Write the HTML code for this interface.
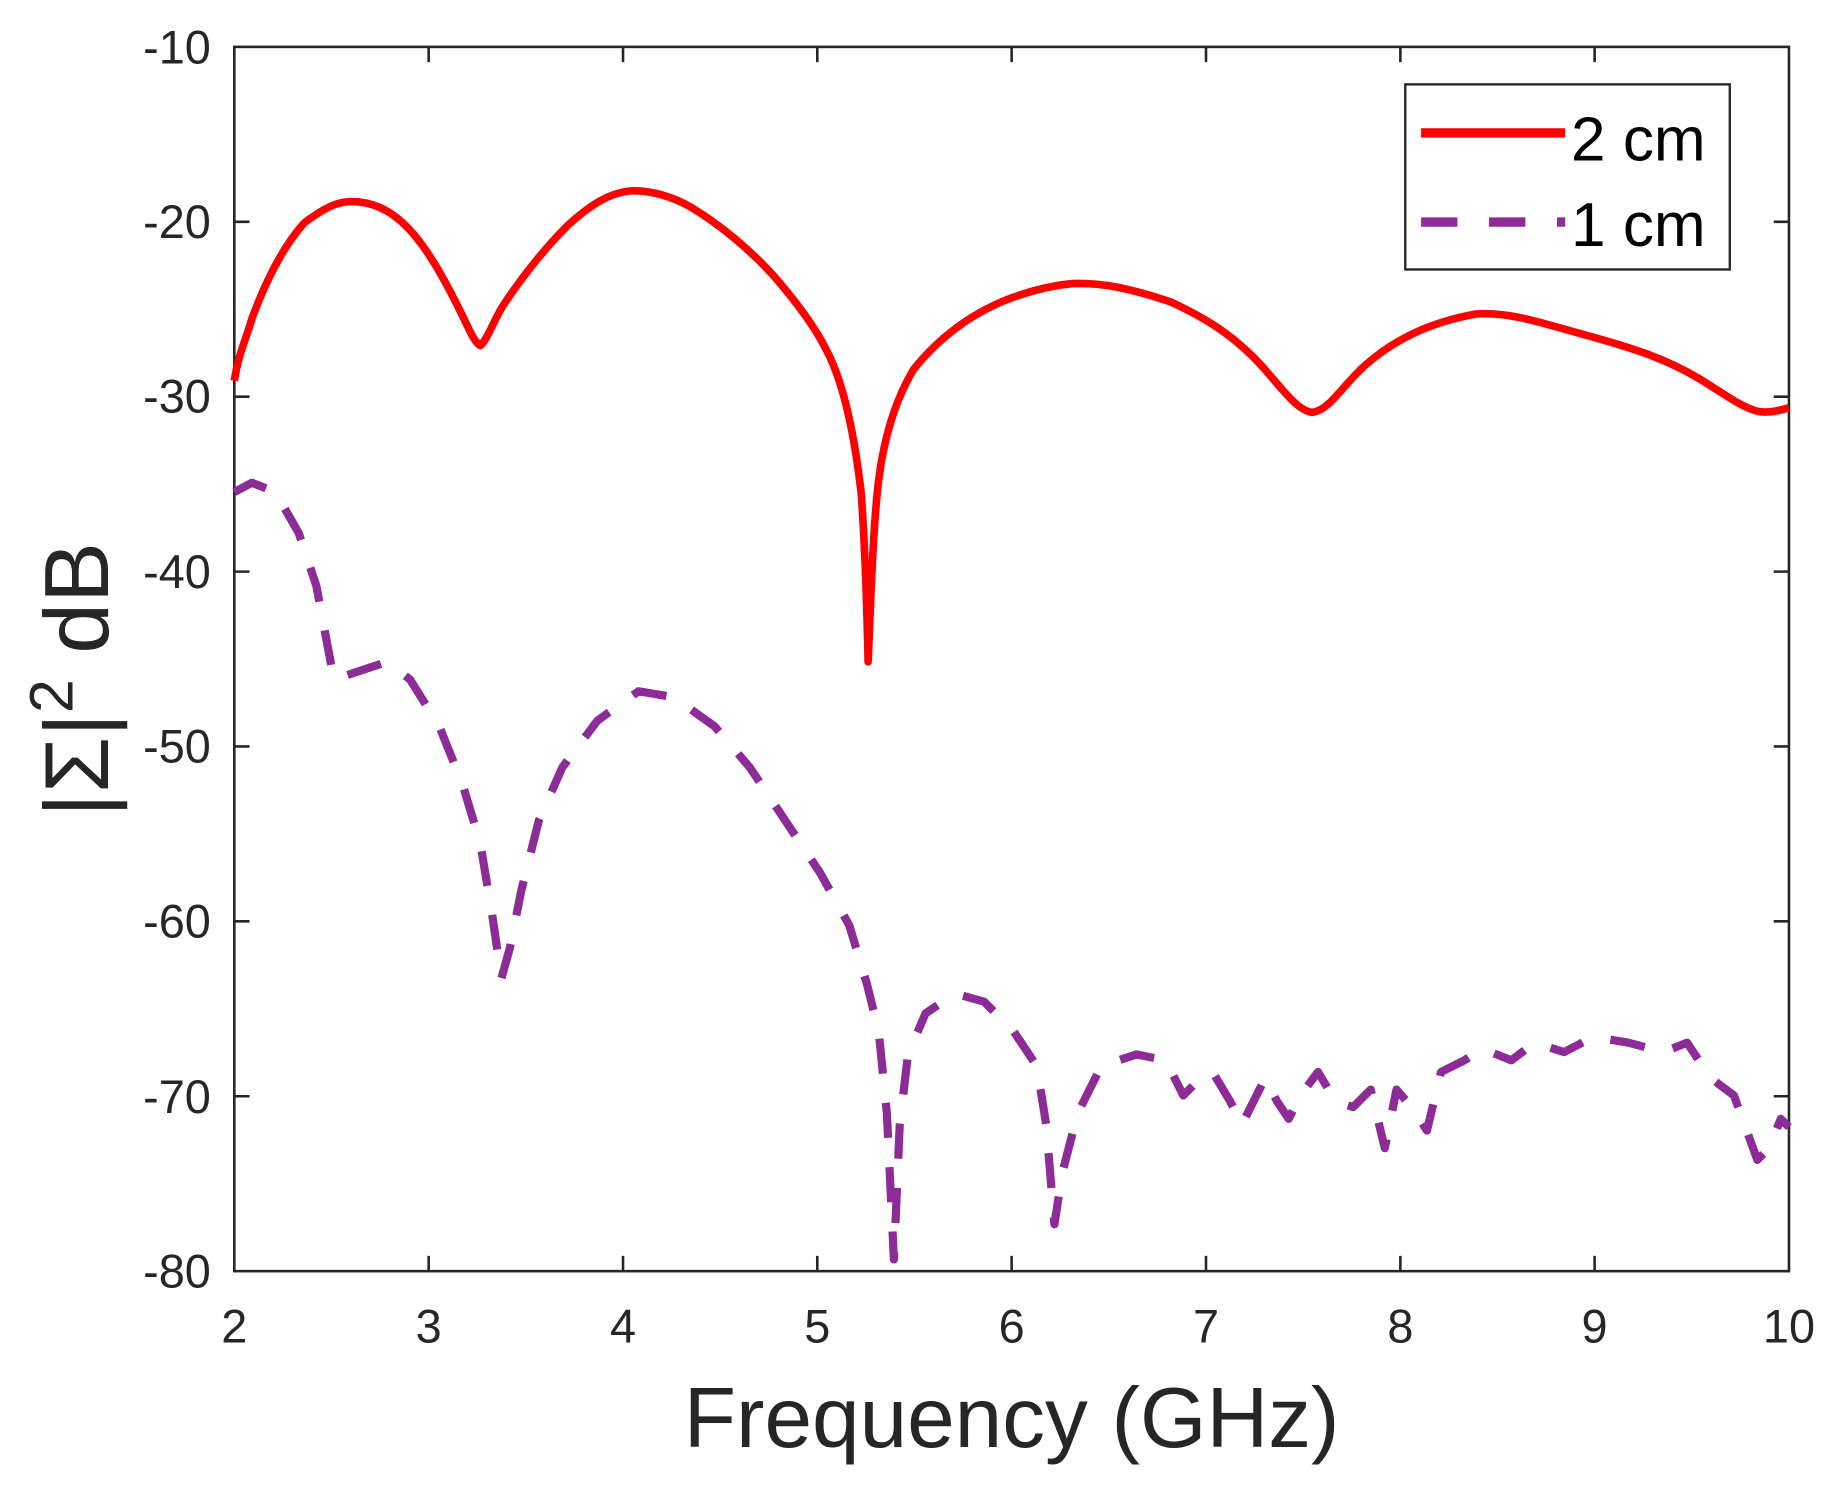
<!DOCTYPE html>
<html><head><meta charset="utf-8"><style>html,body{margin:0;padding:0;background:#fff}svg{display:block}</style></head>
<body>
<svg width="1837" height="1485" viewBox="0 0 1568 1267.5" xmlns="http://www.w3.org/2000/svg" font-family="Liberation Sans, Arial, sans-serif">
<rect width="1568" height="1267.5" fill="#fff"/>
<g stroke="#262626" stroke-width="2.2" fill="none">
<rect x="200" y="40" width="1327" height="1045"/>
<path d="M200,189.3h13M200,338.6h13M200,487.9h13M200,637.1h13M200,786.4h13M200,935.7h13M1527,189.3h-13M1527,338.6h-13M1527,487.9h-13M1527,637.1h-13M1527,786.4h-13M1527,935.7h-13"/>
<path d="M365.9,1085v-13M531.8,1085v-13M697.6,1085v-13M863.5,1085v-13M1029.4,1085v-13M1195.3,1085v-13M1361.1,1085v-13M365.9,40v13M531.8,40v13M697.6,40v13M863.5,40v13M1029.4,40v13M1195.3,40v13M1361.1,40v13"/>
</g>
<g font-size="40" fill="#262626" text-anchor="end">
<text x="180" y="54">-10</text><text x="180" y="203">-20</text><text x="180" y="352">-30</text><text x="180" y="502">-40</text><text x="180" y="651">-50</text><text x="180" y="800">-60</text><text x="180" y="950">-70</text><text x="180" y="1099">-80</text>
</g>
<g font-size="40" fill="#262626" text-anchor="middle">
<text x="200" y="1146">2</text><text x="365.9" y="1146">3</text><text x="531.8" y="1146">4</text><text x="697.6" y="1146">5</text><text x="863.5" y="1146">6</text><text x="1029.4" y="1146">7</text><text x="1195.3" y="1146">8</text><text x="1361.1" y="1146">9</text><text x="1527" y="1146">10</text>
</g>
<text x="863.5" y="1235" font-size="73" fill="#262626" text-anchor="middle">Frequency (GHz)</text>
<text transform="translate(92,580) rotate(-90)" font-size="78" fill="#262626" text-anchor="middle">|Σ|<tspan font-size="52" dy="-30">2</tspan><tspan dy="30"> dB</tspan></text>
<path fill="none" stroke="#ff0000" stroke-width="6.5" stroke-linejoin="round" d="M200,325 C204,300 210,290 215,272 C225,245 240,212 260,190 C280,175 290,172 300,172 C315,172 328,177 340,187 C360,203 378,235 395,270 C402,285 406,293 410,295 C416,290 422,272 430,260 C445,237 465,212 485,192 C505,174 520,165 537,163 C555,162 575,168 590,177 C615,192 640,213 660,235 C680,258 695,278 705,298 C718,322 728,360 735,420 C738,460 740,520 741,565 C743,520 745,450 750,410 C755,370 765,340 780,315 C800,290 830,265 870,252 C890,245 905,243 915,242 C940,241 965,246 1000,258 C1030,272 1050,285 1070,305 C1090,325 1105,350 1120,352 C1135,350 1145,330 1165,312 C1190,290 1220,275 1260,268 C1290,266 1320,277 1350,285 C1390,296 1420,305 1450,323 C1470,335 1485,347 1500,351 C1510,353 1520,350 1527,348"/>
<polyline fill="none" stroke="#8e2c97" stroke-width="7" stroke-dasharray="30,25" stroke-linejoin="round" points="200,420 215,412 235,420 255,455 270,500 285,580 300,575 330,565 350,580 375,620 395,670 410,720 420,780 428,835 435,810 445,760 460,700 480,655 510,615 545,590 575,595 610,620 640,655 670,700 700,745 725,790 740,840 750,880 757,950 763,1075 768,960 775,900 790,865 815,848 840,855 865,880 885,910 893,960 900,1045 907,1000 920,950 940,910 970,900 995,905 1010,935 1020,925 1035,915 1050,940 1060,960 1070,940 1080,920 1090,940 1100,955 1110,935 1125,915 1140,940 1155,945 1170,930 1182,980 1192,930 1205,945 1218,965 1230,915 1250,905 1265,895 1290,905 1310,890 1335,898 1360,885 1390,890 1420,898 1440,890 1460,920 1480,935 1500,990 1510,980 1520,955 1527,962"/>
<rect x="1199.5" y="72" width="277" height="158" fill="#fff" stroke="#262626" stroke-width="2"/>
<line x1="1213" y1="113.5" x2="1336" y2="113.5" stroke="#ff0000" stroke-width="8"/>
<line x1="1213" y1="189.5" x2="1336" y2="189.5" stroke="#8e2c97" stroke-width="8" stroke-dasharray="31,27"/>
<g font-size="53" fill="#000"><text x="1341" y="137">2 cm</text><text x="1341" y="210">1 cm</text></g>
</svg>
</body></html>
